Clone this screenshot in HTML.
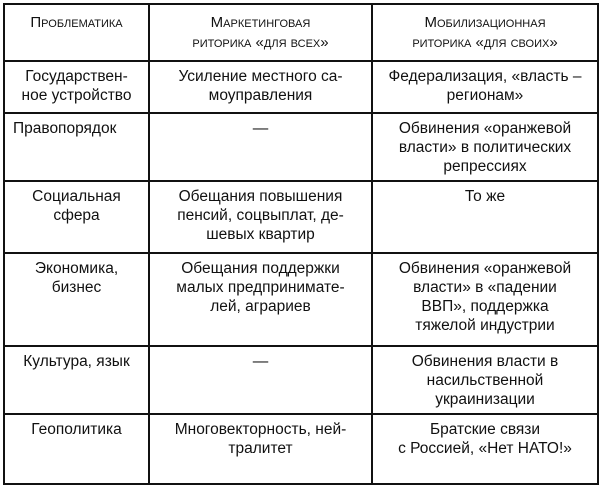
<!DOCTYPE html>
<html><head><meta charset="utf-8"><style>
html,body{margin:0;padding:0;background:#fff;}
body{width:600px;height:485px;position:relative;overflow:hidden;font-family:"Liberation Sans","DejaVu Sans",sans-serif;color:#111;}
table{position:absolute;left:3px;top:3px;width:594px;height:480px;border-collapse:collapse;table-layout:fixed;}
td{border:2px solid #111;vertical-align:top;text-align:center;font-size:15.5px;line-height:19px;padding:5px 4px 0 4px;}
td.h{font-variant:small-caps;font-size:15px;line-height:20px;padding-top:8px;}
</style></head><body>
<table>
<colgroup><col style="width:145px"><col style="width:223px"><col style="width:226px"></colgroup>
<tr style="height:57px"><td class="h">Проблематика</td><td class="h">Маркетинговая<br>риторика «для всех»</td><td class="h">Мобилизационная<br>риторика «для своих»</td></tr>
<tr style="height:52px"><td>Государствен-<br>ное устройство</td><td>Усиление местного са-<br>моуправления</td><td>Федерализация, «власть –<br>регионам»</td></tr>
<tr style="height:68px"><td style="text-align:left;padding-left:8px">Правопорядок</td><td>—</td><td>Обвинения «оранжевой<br>власти» в политических<br>репрессиях</td></tr>
<tr style="height:72px"><td>Социальная<br>сфера</td><td>Обещания повышения<br>пенсий, соцвыплат, де-<br>шевых квартир</td><td>То же</td></tr>
<tr style="height:93px"><td>Экономика,<br>бизнес</td><td>Обещания поддержки<br>малых предпринимате-<br>лей, аграриев</td><td>Обвинения «оранжевой<br>власти» в «падении<br>ВВП», поддержка<br>тяжелой индустрии</td></tr>
<tr style="height:68px"><td>Культура, язык</td><td>—</td><td>Обвинения власти в<br>насильственной<br>украинизации</td></tr>
<tr style="height:70px"><td>Геополитика</td><td>Многовекторность, ней-<br>тралитет</td><td>Братские связи<br>с Россией, «Нет НАТО!»</td></tr>
</table>
</body></html>
